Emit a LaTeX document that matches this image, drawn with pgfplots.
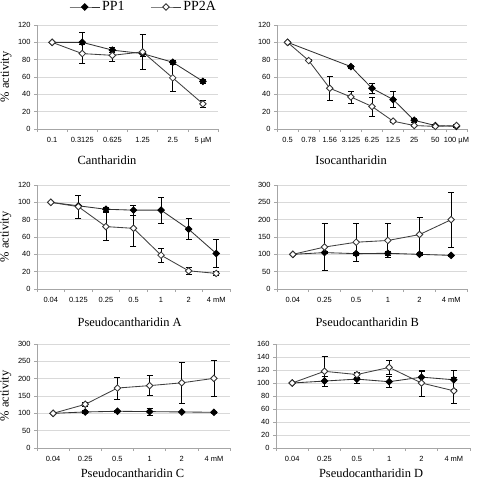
\documentclass[border=0pt]{standalone}
\usepackage{fontspec}
\setmainfont{Liberation Serif}
\newfontfamily\arial{Liberation Sans}
\usepackage{pgfplots}
\pgfplotsset{compat=1.18}
\pgfplotsset{
  panel/.style={
    scale only axis, height=104bp, ymin=0,
    axis x line*=bottom, axis y line*=left,
    axis line style={-, draw=gray!70, line width=0.6bp},
    ymajorgrids, grid style={draw=gray!30, line width=0.6bp},
    tick align=outside, major tick length=3bp,
    tick style={draw=gray!70, line width=0.6bp},
    x tick label as interval,
    tick label style={font=\arial\fontsize{7.5}{8}\selectfont},
    xticklabel style={yshift=-2bp},
    /pgf/number format/assume math mode=true,
    xlabel style={font=\fontsize{12.5}{14}\selectfont, anchor=center, inner sep=1bp},
    ylabel style={font=\fontsize{12.5}{14}\selectfont, anchor=center},
    clip=false,
  },
  pp1/.style={draw=black!80, line width=0.85bp, mark=square*, mark size=2.3bp,
    mark options={rotate=45, fill=black, draw=black, solid},
    error bars/.cd, y dir=both, y explicit,
    error bar style={draw=black, line width=0.7bp},
    error mark options={rotate=90, mark size=3bp, draw=black, line width=0.7bp}},
  pp2a/.style={draw=black!75, line width=0.85bp, mark=square*, mark size=2.3bp,
    mark options={rotate=45, fill=white, draw=black!80, solid},
    error bars/.cd, y dir=both, y explicit,
    error bar style={draw=black, line width=0.7bp},
    error mark options={rotate=90, mark size=3bp, draw=black, line width=0.7bp}},
}
\begin{document}
\begin{tikzpicture}[x=1bp,y=1bp]
\path[use as bounding box] (0,0) rectangle (477,-481);

% Panel 1: Cantharidin
\begin{axis}[panel, at={(37bp,-129bp)}, anchor=south west, width=181bp,
  ymax=120, ytick={0,20,...,120},
  xmin=-0.5, xmax=5.5, xtick={-0.5,0.5,...,5.5},
  xticklabels={0.1,0.3125,0.625,1.25,2.5,5 µM},
  xlabel={Cantharidin}, xlabel style={at={(axis description cs:0.387,0)}, yshift=-31bp},
  ylabel={\% activity}, ylabel style={at={(axis description cs:-0.171,0.5)}},
  legend style={at={(axis description cs:0.177,1.173)}, anchor=west, draw=none, fill=none,
    legend columns=2, font=\fontsize{14}{16}\selectfont, inner sep=0pt,
    /tikz/every even column/.append style={column sep=24bp}},
  legend image code/.code={\draw[mark repeat=2,mark phase=2,#1] plot coordinates {(0bp,0bp) (15bp,0bp) (30bp,0bp)};},
]
\addplot+[pp1] coordinates {(0,100)+-(0,0) (1,100)+-(0,11) (2,91)+-(0,3) (3,87)+-(0,3) (4,77)+-(0,2) (5,55)+-(0,2)};
\addlegendentry{PP1}
\addplot+[pp2a] coordinates {(0,100)+-(0,0) (1,87)+-(0,11) (2,85)+-(0,7) (3,89)+-(0,20) (4,59)+-(0,16) (5,29)+-(0,4)};
\addlegendentry{PP2A}
\end{axis}

% Panel 2: Isocantharidin
\begin{axis}[panel, at={(277bp,-129bp)}, anchor=south west, width=190bp,
  ymax=120, ytick={0,20,...,120},
  xmin=-0.5, xmax=8.5, xtick={-0.5,0.5,...,8.5},
  xticklabels={0.5,0.78,1.56,3.125,6.25,12.5,25,50,100 µM},
  xlabel={Isocantharidin}, xlabel style={at={(axis description cs:0.39,0)}, yshift=-31bp},
]
\addplot+[pp1] coordinates {(0,100)+-(0,0) (3,72)+-(0,2) (4,47)+-(0,6) (5,34)+-(0,9) (6,10)+-(0,2) (7,4)+-(0,1) (8,3)+-(0,1)};
\addplot+[pp2a] coordinates {(0,100)+-(0,0) (1,79)+-(0,1) (2,47)+-(0,14) (3,37)+-(0,7) (4,26)+-(0,11) (5,9)+-(0,1) (6,4)+-(0,1) (7,3)+-(0,1) (8,4)+-(0,1)};
\end{axis}

% Panel 3: Pseudocantharidin A
\begin{axis}[panel, at={(37bp,-289bp)}, anchor=south west, width=193bp,
  ymax=120, ytick={0,20,...,120},
  xmin=-0.5, xmax=6.5, xtick={-0.5,0.5,...,6.5},
  xticklabels={0.04,0.125,0.25,0.5,1,2,4 mM},
  xlabel={Pseudocantharidin A}, xlabel style={at={(axis description cs:0.48,0)}, yshift=-33bp},
  ylabel={\% activity}, ylabel style={at={(axis description cs:-0.161,0.5)}},
]
\addplot+[pp1] coordinates {(0,100)+-(0,0) (1,96)+-(0,1) (2,92)+-(0,2) (3,91)+-(0,6) (4,91)+-(0,15) (5,69)+-(0,12) (6,41)+-(0,16)};
\addplot+[pp2a] coordinates {(0,100)+-(0,0) (1,95)+-(0,13) (2,72)+-(0,16) (3,70)+-(0,21) (4,39)+-(0,8) (5,21)+-(0,4) (6,18)+-(0,2)};
\end{axis}

% Panel 4: Pseudocantharidin B
\begin{axis}[panel, at={(277bp,-289bp)}, anchor=south west, width=190bp,
  ymax=300, ytick={0,50,...,300},
  xmin=-0.5, xmax=5.5, xtick={-0.5,0.5,...,5.5},
  xticklabels={0.04,0.25,0.5,1,2,4 mM},
  xlabel={Pseudocantharidin B}, xlabel style={at={(axis description cs:0.475,0)}, yshift=-33bp},
]
\addplot+[pp1] coordinates {(0,100)+-(0,0) (1,105)+-(0,3) (2,102)+-(0,5) (3,103)+-(0,5) (4,100)+-(0,3) (5,97)+-(0,2)};
\addplot+[pp2a] coordinates {(0,100)+-(0,0) (1,121)+-(0,67) (2,135)+-(0,55) (3,140)+-(0,50) (4,157)+-(0,50) (5,200)+-(0,79)};
\end{axis}

% Panel 5: Pseudocantharidin C
\begin{axis}[panel, at={(37bp,-448bp)}, anchor=south west, width=193bp,
  ymax=300, ytick={0,50,...,300},
  xmin=-0.5, xmax=5.5, xtick={-0.5,0.5,...,5.5},
  xticklabels={0.04,0.25,0.5,1,2,4 mM},
  xlabel={Pseudocantharidin C}, xlabel style={at={(axis description cs:0.495,0)}, yshift=-25.5bp},
  ylabel={\% activity}, ylabel style={at={(axis description cs:-0.161,0.5)}},
]
\addplot+[pp1] coordinates {(0,100)+-(0,0) (1,104)+-(0,4) (2,106)+-(0,2) (3,105)+-(0,10) (4,104)+-(0,2) (5,103)+-(0,2)};
\addplot+[pp2a] coordinates {(0,100)+-(0,0) (1,126)+-(0,6) (2,173)+-(0,32) (3,180)+-(0,29) (4,188)+-(0,60) (5,201)+-(0,51)};
\end{axis}

% Panel 6: Pseudocantharidin D
\begin{axis}[panel, at={(276bp,-448bp)}, anchor=south west, width=194bp,
  ymax=160, ytick={0,20,...,160},
  xmin=-0.5, xmax=5.5, xtick={-0.5,0.5,...,5.5},
  xticklabels={0.04,0.25,0.5,1,2,4 mM},
  xlabel={Pseudocantharidin D}, xlabel style={at={(axis description cs:0.49,0)}, yshift=-25.5bp},
]
\addplot+[pp1] coordinates {(0,100)+-(0,0) (1,103)+-(0,8) (2,106)+-(0,7) (3,102)+-(0,9) (4,109)+-(0,9) (5,105)+-(0,14)};
\addplot+[pp2a] coordinates {(0,100)+-(0,0) (1,118)+-(0,23) (2,113)+-(0,4) (3,124)+-(0,11) (4,100)+-(0,20) (5,88)+-(0,20)};
\end{axis}
\end{tikzpicture}
\end{document}
